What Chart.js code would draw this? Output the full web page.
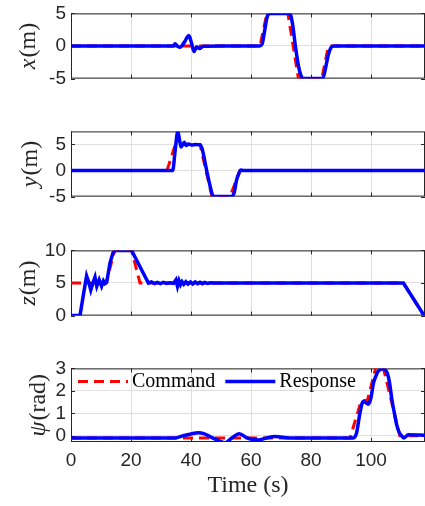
<!DOCTYPE html>
<html>
<head>
<meta charset="utf-8">
<title>Command vs response</title>
<script src="https://cdn.jsdelivr.net/npm/chart.js@4.4.0/dist/chart.umd.min.js"></script>
<style>
    html, body { margin: 0; padding: 0; background: #fff; overflow: hidden; }
    #wrap { position: relative; width: 425px; height: 506px; overflow: hidden; }
    #wrap canvas { position: absolute; left: 0; }
</style>
</head>
<body>
<div id="wrap">
    <canvas id="chartX"></canvas>
    <canvas id="chartY"></canvas>
    <canvas id="chartZ"></canvas>
    <canvas id="chartPsi"></canvas>
</div>
<script>
// ---- data ----
const timeRange = [0, 118];
const timeTicks = [0, 20, 40, 60, 80, 100];

// x position (m)
const xRange = [-5, 5];
const xTicks = [-5, 0, 5];
const xCmdTime = [0, 63, 65.3, 72.3, 75.8, 83.6, 85.8, 118];
const xCmd = [0, 0, 5, 5, -5, -5, 0, 0];
const xResTime = [0, 34.0, 34.7, 35.5, 36.3, 37.8, 39.3, 40.2, 41.0, 41.9, 42.8, 44.1, 50, 62.8, 63.7, 64.5, 65.4, 66.4, 67.5, 72.9, 73.8, 74.8, 75.8, 76.7, 77.4, 78.2, 83.9, 84.8, 85.7, 86.6, 87.6, 118];
const xRes = [0, 0, 0.33, 0.0, -0.2, 0.6, 1.6, 0.4, -0.85, -0.1, -0.4, -0.05, 0, 0, 0.3, 2.2, 4.5, 5, 5, 5, 3.5, 0.0, -3.0, -4.6, -5, -5, -5, -3.5, -1.5, -0.3, 0, 0];

// y position (m)
const yRange = [-5, 7.5];
const yTicks = [-5, 0, 5];
const yCmdTime = [0, 32, 34.8, 43, 47, 53, 56.3, 118];
const yCmd = [0, 0, 5, 5, -5, -5, 0, 0];
const yResTime = [0, 33.9, 34.7, 35.6, 36.2, 36.7, 37.3, 37.8, 38.4, 39.2, 40.2, 41.5, 43.0, 43.8, 44.6, 45.4, 46.3, 47.0, 47.6, 53.6, 54.4, 55.2, 56.0, 56.6, 57.5, 118];
const yRes = [0, 0, 3.7, 7.5, 5.8, 4.5, 5.0, 5.4, 4.8, 5.1, 4.9, 5.0, 4.9, 4.0, 1.8, -0.5, -2.8, -4.4, -5, -5, -4.2, -1.8, -0.5, 0.1, 0, 0];

// z position (m)
const zRange = [0, 10];
const zTicks = [0, 5, 10];
const zCmdTime = [0, 11.7, 14.5, 20.2, 23.0, 110.8, 117.7, 118];
const zCmd = [5, 5, 10, 10, 5, 5, 0, 0];
const zResTime = [0, 3.0, 4.1, 5.2, 6.0, 6.6, 7.3, 8.0, 8.6, 9.4, 10.2, 10.8, 11.3, 11.9, 13.0, 14.0, 14.8, 16.0, 20.2, 23.0, 25.8, 26.8, 27.8, 28.8, 29.8, 30.8, 31.8, 33.0, 34.2, 35.0, 35.5, 36.0, 36.5, 37.0, 37.6, 38.3, 39.0, 39.8, 40.6, 41.4, 42.2, 43.0, 43.8, 44.6, 45.5, 46.5, 48.0, 110.8, 117.7, 118];
const zRes = [0, 0, 3.1, 6.1, 5.0, 3.9, 5.0, 5.9, 4.5, 5.5, 4.5, 5.3, 4.9, 5.1, 8.1, 9.6, 10, 10, 10, 7.5, 5.0, 5.15, 4.9, 5.1, 4.9, 5.1, 4.95, 5.05, 4.95, 5.5, 4.5, 5.35, 4.75, 5.2, 4.8, 5.2, 4.85, 5.15, 4.85, 5.15, 4.9, 5.1, 4.9, 5.1, 4.95, 5.05, 5.0, 5.0, 0, 0];

// yaw psi (rad)
const psiRange = [-0.28, 3];
const psiTicks = [0, 1, 2, 3];
const psiCmdTime = [0, 93.0, 96.8, 98.8, 101.8, 103.9, 109.6, 118];
const psiCmd = [-0.1, -0.1, 1.57, 1.57, 3.14, 3.14, 0, 0];
const psiResTime = [0, 34.7, 37.4, 40.0, 42.4, 44.5, 46.3, 48.8, 51.3, 53.6, 56.1, 58.6, 60.5, 62.4, 65.2, 68.0, 73.0, 94.1, 95.2, 96.3, 97.4, 98.2, 99.1, 100.0, 100.8, 101.6, 102.4, 103.1, 103.8, 104.6, 105.4, 106.2, 106.9, 107.8, 108.6, 109.4, 110.2, 111.0, 112.4, 118];
const psiRes = [-0.1, -0.1, 0.0, 0.08, 0.13, 0.08, -0.04, -0.2, -0.31, -0.1, 0.09, -0.1, -0.16, -0.19, -0.1, -0.04, -0.1, -0.1, 0.13, 1.0, 1.53, 1.48, 1.4, 1.7, 2.33, 2.65, 2.87, 2.95, 2.97, 2.95, 2.8, 2.35, 1.67, 1.0, 0.47, 0.15, 0.0, -0.1, 0.04, 0.02];

const seriesLabels = ['Command', 'Response'];

// ---- layout / style ----
const canvasWidth = 430;
const plotLeft = 71;
const plotRight = 425;
const plotTops = [5, 123, 242, 360];
const plotHeight = 82;
const labelCenters = [29, 31, 29, 39];
const axisColor = '#262626';
const gridColor = '#dfdfdf';
const tickFont = { family: '"Liberation Sans", Arial, sans-serif', size: 19 };
const serif = '"Liberation Serif", "Times New Roman", serif';

const panels = [
    { id: 'chartX', symbol: 'x', unit: '(m)', cmdTime: xCmdTime, cmd: xCmd, resTime: xResTime, res: xRes, range: xRange, ticks: xTicks, smooth: true },
    { id: 'chartY', symbol: 'y', unit: '(m)', cmdTime: yCmdTime, cmd: yCmd, resTime: yResTime, res: yRes, range: yRange, ticks: yTicks, smooth: true },
    { id: 'chartZ', symbol: 'z', unit: '(m)', cmdTime: zCmdTime, cmd: zCmd, resTime: zResTime, res: zRes, range: zRange, ticks: zTicks, smooth: false },
    { id: 'chartPsi', symbol: 'ψ', unit: '(rad)', cmdTime: psiCmdTime, cmd: psiCmd, resTime: psiResTime, res: psiRes, range: psiRange, ticks: psiTicks, smooth: true }
];

function toPoints(times, values) {
    return times.map((t, i) => ({ x: t, y: values[i] }));
}

// Box around the axes plus short inward tick marks (MATLAB look)
const boxPlugin = {
    id: 'matlabBox',
    beforeDatasetsDraw(chart) {
        const { ctx, chartArea: a, scales } = chart;
        ctx.save();
        ctx.strokeStyle = axisColor;
        ctx.lineWidth = 1;
        ctx.beginPath();
        scales.x.ticks.forEach(t => {
            const px = Math.round(scales.x.getPixelForValue(t.value)) + 0.5;
            ctx.moveTo(px, a.bottom); ctx.lineTo(px, a.bottom - 4);
            ctx.moveTo(px, a.top); ctx.lineTo(px, a.top + 4);
        });
        scales.y.ticks.forEach(t => {
            const py = Math.round(scales.y.getPixelForValue(t.value)) + 0.5;
            ctx.moveTo(a.left, py); ctx.lineTo(a.left + 4, py);
            ctx.moveTo(a.right, py); ctx.lineTo(a.right - 4, py);
        });
        ctx.stroke();
        ctx.strokeRect(a.left + 0.5, a.top + 0.5, a.right - a.left - 1, a.bottom - a.top - 1);
        ctx.restore();
    }
};

// Rotated y label: italic symbol + upright unit
const yLabelPlugin = {
    id: 'yLabel',
    afterDraw(chart, args, opts) {
        const { ctx, chartArea: a } = chart;
        const symFont = 'italic 24px ' + serif;
        const unitFont = '24px ' + serif;
        ctx.save();
        ctx.translate(opts.x, (a.top + a.bottom) / 2);
        ctx.rotate(-Math.PI / 2);
        ctx.textBaseline = 'middle';
        ctx.textAlign = 'left';
        ctx.fillStyle = axisColor;
        ctx.font = symFont;
        const w1 = ctx.measureText(opts.symbol).width + 1;
        ctx.font = unitFont;
        const w2 = ctx.measureText(opts.unit).width;
        const x = -(w1 + w2) / 2;
        ctx.font = symFont;
        ctx.fillText(opts.symbol, x, 0);
        ctx.font = unitFont;
        ctx.fillText(opts.unit, x + w1, 0);
        ctx.restore();
    }
};

// Legend drawn inside the last panel, no frame
const insideLegend = {
    id: 'insideLegend',
    afterDraw(chart) {
        const { ctx, chartArea: a } = chart;
        const y = a.top + 13;
        let x = a.left + 7;
        ctx.save();
        ctx.font = '20px ' + serif;
        ctx.textBaseline = 'middle';
        ctx.textAlign = 'left';
        chart.data.datasets.forEach(ds => {
            ctx.strokeStyle = ds.borderColor;
            ctx.lineWidth = ds.borderWidth;
            ctx.setLineDash(ds.borderDash || []);
            ctx.beginPath();
            ctx.moveTo(x, y);
            ctx.lineTo(x + 50, y);
            ctx.stroke();
            ctx.setLineDash([]);
            ctx.fillStyle = '#000';
            ctx.fillText(ds.label, x + 54, y);
            x += 54 + ctx.measureText(ds.label).width + 10;
        });
        ctx.restore();
    }
};

function createPanel(p, i) {
    const last = i === panels.length - 1;
    const canvas = document.getElementById(p.id);
    const height = last ? 506 - (plotTops[i] - 8) : plotHeight + 16;
    canvas.width = canvasWidth;
    canvas.height = height;
    canvas.style.width = canvasWidth + 'px';
    canvas.style.height = height + 'px';
    canvas.style.top = (plotTops[i] - 8) + 'px';

    const plugins = [boxPlugin, yLabelPlugin];
    if (last) plugins.push(insideLegend);

    const responseLine = {
        label: seriesLabels[1],
        data: toPoints(p.resTime, p.res),
        borderColor: '#0000ff',
        borderWidth: 3.5,
        pointRadius: 0,
        order: 0
    };
    if (p.smooth) responseLine.cubicInterpolationMode = 'monotone';

    return new Chart(canvas.getContext('2d'), {
        type: 'line',
        data: {
            datasets: [
                {
                    label: seriesLabels[0],
                    data: toPoints(p.cmdTime, p.cmd),
                    borderColor: '#ff0000',
                    borderWidth: 3,
                    borderDash: [10, 6],
                    pointRadius: 0,
                    tension: 0,
                    order: 1
                },
                responseLine
            ]
        },
        options: {
            responsive: false,
            animation: false,
            events: [],
            layout: { padding: { top: 8, bottom: last ? 0 : 8, left: 0, right: canvasWidth - plotRight } },
            scales: {
                x: {
                    type: 'linear',
                    min: timeRange[0],
                    max: timeRange[1],
                    afterBuildTicks: s => { s.ticks = timeTicks.map(v => ({ value: v })); },
                    afterFit: s => { s.height = last ? 506 - plotTops[i] - plotHeight : 0; },
                    grid: { color: gridColor, drawTicks: false },
                    border: { display: false },
                    ticks: {
                        display: last,
                        autoSkip: false,
                        color: axisColor,
                        font: tickFont,
                        padding: 7,
                        maxRotation: 0,
                        callback: v => String(v)
                    },
                    title: {
                        display: last,
                        text: 'Time (s)',
                        color: axisColor,
                        font: { family: serif, size: 24 },
                        padding: { top: 0, bottom: 6 }
                    }
                },
                y: {
                    min: p.range[0],
                    max: p.range[1],
                    afterBuildTicks: s => { s.ticks = p.ticks.map(v => ({ value: v })); },
                    afterFit: s => { s.width = plotLeft; },
                    grid: { color: gridColor, drawTicks: false },
                    border: { display: false },
                    ticks: {
                        autoSkip: false,
                        color: axisColor,
                        font: tickFont,
                        padding: 5,
                        callback: v => String(v)
                    }
                }
            },
            plugins: {
                legend: { display: false },
                tooltip: { enabled: false },
                yLabel: { symbol: p.symbol, unit: p.unit, x: labelCenters[i] }
            }
        },
        plugins: plugins
    });
}

panels.forEach(createPanel);
</script>
</body>
</html>
